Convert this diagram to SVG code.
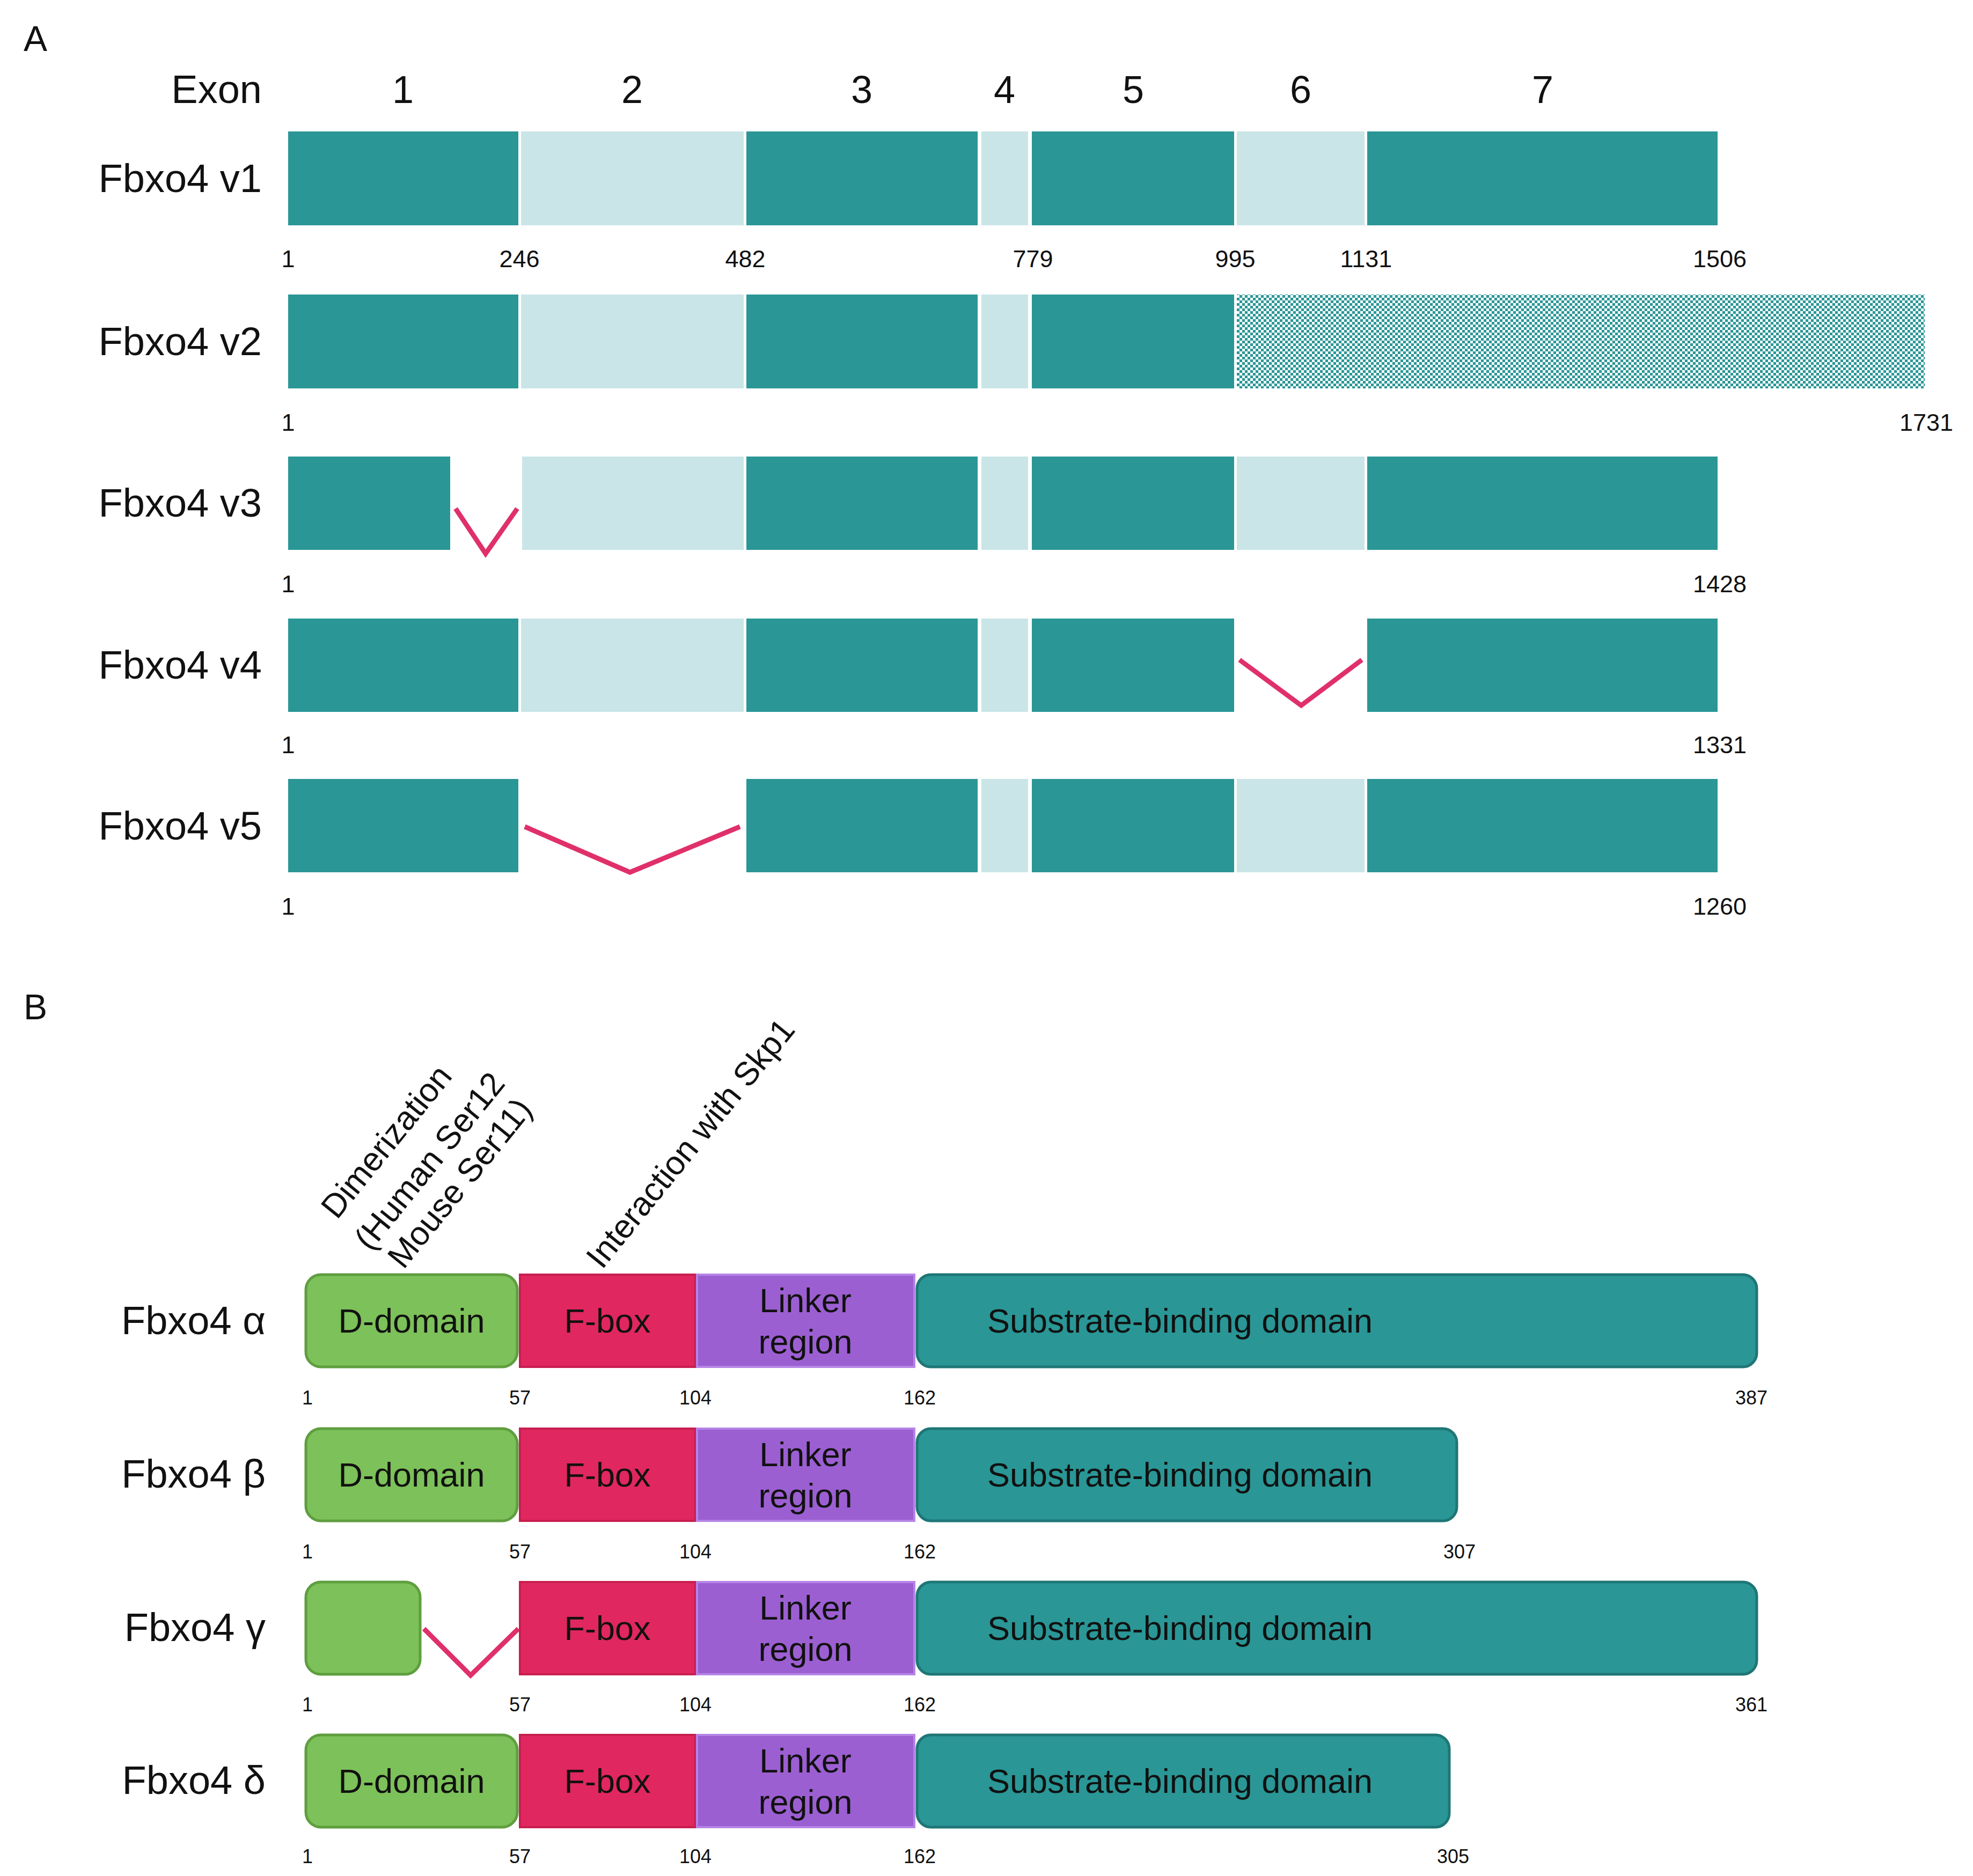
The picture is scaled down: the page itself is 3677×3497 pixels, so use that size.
<svg xmlns="http://www.w3.org/2000/svg" width="3677" height="3497" viewBox="0 0 3677 3497">
<style>
text{font-family:"Liberation Sans",Arial,sans-serif;fill:#111}
.lab{font-size:74px;text-anchor:end}
.hd{font-size:72px;text-anchor:middle}
.num{font-size:45px;text-anchor:middle}
.pn{font-size:36px;text-anchor:middle}
.bx{font-size:63px;text-anchor:middle}
.d{fill:#2a9696}
.l{fill:#c9e5e7}
.v{fill:none;stroke:#e0306a;stroke-width:9}
.dd{fill:#7cc159;stroke:#5f9e3f;stroke-width:5}
.fb{fill:#e0275f;stroke:#c81e50;stroke-width:4}
.lk{fill:#9c5fd2;stroke:#b585e6;stroke-width:4}
.sb{fill:#2a9696;stroke:#1f7676;stroke-width:5}
</style>
<defs>
<pattern id="chk" width="10" height="10" patternUnits="userSpaceOnUse">
<rect width="10" height="10" fill="#fff"/><rect width="5" height="5" fill="#2a9696"/><rect x="5" y="5" width="5" height="5" fill="#2a9696"/>
</pattern>
</defs>
<text x="44" y="95" style="font-size:66px">A</text>
<text x="44" y="1900" style="font-size:66px">B</text>
<g id="exonhdr">
<text x="488" y="192" class="lab">Exon</text>
<text x="751" y="192" class="hd">1</text><text x="1178" y="192" class="hd">2</text><text x="1606" y="192" class="hd">3</text><text x="1872" y="192" class="hd">4</text><text x="2112" y="192" class="hd">5</text><text x="2424" y="192" class="hd">6</text><text x="2875" y="192" class="hd">7</text>
</g>
<g id="v1">
<text x="488" y="358" class="lab">Fbxo4 v1</text>
<rect x="537" y="245" width="429" height="175" class="d"/><rect x="971" y="245" width="415" height="175" class="l"/><rect x="1391" y="245" width="431" height="175" class="d"/><rect x="1829" y="245" width="87" height="175" class="l"/><rect x="1923" y="245" width="377" height="175" class="d"/><rect x="2305" y="245" width="238" height="175" class="l"/><rect x="2548" y="245" width="653" height="175" class="d"/>
<text x="537" y="498" class="num">1</text><text x="968" y="498" class="num">246</text><text x="1389" y="498" class="num">482</text><text x="1925" y="498" class="num">779</text><text x="2302" y="498" class="num">995</text><text x="2546" y="498" class="num">1131</text><text x="3205" y="498" class="num">1506</text>
</g>
<g id="v2">
<text x="488" y="662" class="lab">Fbxo4 v2</text>
<rect x="537" y="549" width="429" height="175" class="d"/><rect x="971" y="549" width="415" height="175" class="l"/><rect x="1391" y="549" width="431" height="175" class="d"/><rect x="1829" y="549" width="87" height="175" class="l"/><rect x="1923" y="549" width="377" height="175" class="d"/><rect x="2305" y="549" width="1282" height="175" fill="url(#chk)"/>
<text x="537" y="803" class="num">1</text><text x="3590" y="803" class="num">1731</text>
</g>
<g id="v3">
<text x="488" y="963" class="lab">Fbxo4 v3</text>
<rect x="537" y="851" width="302" height="174" class="d"/><rect x="973" y="851" width="413" height="174" class="l"/><rect x="1391" y="851" width="431" height="174" class="d"/><rect x="1829" y="851" width="87" height="174" class="l"/><rect x="1923" y="851" width="377" height="174" class="d"/><rect x="2305" y="851" width="238" height="174" class="l"/><rect x="2548" y="851" width="653" height="174" class="d"/>
<text x="537" y="1104" class="num">1</text><text x="3205" y="1104" class="num">1428</text>
</g>
<g id="v4">
<text x="488" y="1265" class="lab">Fbxo4 v4</text>
<rect x="537" y="1153" width="429" height="174" class="d"/><rect x="971" y="1153" width="415" height="174" class="l"/><rect x="1391" y="1153" width="431" height="174" class="d"/><rect x="1829" y="1153" width="87" height="174" class="l"/><rect x="1923" y="1153" width="377" height="174" class="d"/><rect x="2548" y="1153" width="653" height="174" class="d"/>
<text x="537" y="1404" class="num">1</text><text x="3205" y="1404" class="num">1331</text>
</g>
<g id="v5">
<text x="488" y="1565" class="lab">Fbxo4 v5</text>
<rect x="537" y="1452" width="429" height="174" class="d"/><rect x="1391" y="1452" width="431" height="174" class="d"/><rect x="1829" y="1452" width="87" height="174" class="l"/><rect x="1923" y="1452" width="377" height="174" class="d"/><rect x="2305" y="1452" width="238" height="174" class="l"/><rect x="2548" y="1452" width="653" height="174" class="d"/>
<text x="537" y="1705" class="num">1</text><text x="3205" y="1705" class="num">1260</text>
</g>
<g id="splices">
<polyline points="849,948 905,1032 964,948" class="v"/>
<polyline points="2310,1230 2425,1315 2538,1230" class="v"/>
<polyline points="978,1541 1174,1626 1379,1541" class="v"/>
<polyline points="790,3036 877,3123 966,3036" class="v"/>
</g>
<g id="annot" style="font-size:62px">
<text transform="translate(628,2275) rotate(-51)">Dimerization</text>
<text transform="translate(690,2334) rotate(-51)">(Human Ser12</text>
<text transform="translate(752,2368) rotate(-51)">Mouse Ser11)</text>
<text transform="translate(1122,2368) rotate(-51)">Interaction with Skp1</text>
</g>
<g id="alpha">
<text x="495" y="2487" class="lab">Fbxo4 α</text>
<rect x="570" y="2376" width="394" height="172" rx="28" class="dd"/><rect x="969" y="2376" width="327" height="172" class="fb"/><rect x="1299" y="2376" width="405" height="172" class="lk"/><rect x="1709" y="2376" width="1565" height="172" rx="26" class="sb"/>
<text x="767" y="2484" class="bx">D-domain</text><text x="1132" y="2484" class="bx">F-box</text><text x="1501" y="2446" class="bx">Linker</text><text x="1501" y="2523" class="bx">region</text><text x="2199" y="2484" class="bx">Substrate-binding domain</text>
<text x="573" y="2618" class="pn">1</text><text x="969" y="2618" class="pn">57</text><text x="1296" y="2618" class="pn">104</text><text x="1714" y="2618" class="pn">162</text><text x="3264" y="2618" class="pn">387</text>
</g>
<g id="beta">
<text x="495" y="2773" class="lab">Fbxo4 β</text>
<rect x="570" y="2663" width="394" height="172" rx="28" class="dd"/><rect x="969" y="2663" width="327" height="172" class="fb"/><rect x="1299" y="2663" width="405" height="172" class="lk"/><rect x="1709" y="2663" width="1006" height="172" rx="26" class="sb"/>
<text x="767" y="2771" class="bx">D-domain</text><text x="1132" y="2771" class="bx">F-box</text><text x="1501" y="2733" class="bx">Linker</text><text x="1501" y="2810" class="bx">region</text><text x="2199" y="2771" class="bx">Substrate-binding domain</text>
<text x="573" y="2905" class="pn">1</text><text x="969" y="2905" class="pn">57</text><text x="1296" y="2905" class="pn">104</text><text x="1714" y="2905" class="pn">162</text><text x="2720" y="2905" class="pn">307</text>
</g>
<g id="gamma">
<text x="495" y="3059" class="lab">Fbxo4 γ</text>
<rect x="570" y="2949" width="213" height="172" rx="28" class="dd"/><rect x="969" y="2949" width="327" height="172" class="fb"/><rect x="1299" y="2949" width="405" height="172" class="lk"/><rect x="1709" y="2949" width="1565" height="172" rx="26" class="sb"/>
<text x="1132" y="3057" class="bx">F-box</text><text x="1501" y="3019" class="bx">Linker</text><text x="1501" y="3096" class="bx">region</text><text x="2199" y="3057" class="bx">Substrate-binding domain</text>
<text x="573" y="3190" class="pn">1</text><text x="969" y="3190" class="pn">57</text><text x="1296" y="3190" class="pn">104</text><text x="1714" y="3190" class="pn">162</text><text x="3264" y="3190" class="pn">361</text>
</g>
<g id="delta">
<text x="495" y="3344" class="lab">Fbxo4 δ</text>
<rect x="570" y="3234" width="394" height="172" rx="28" class="dd"/><rect x="969" y="3234" width="327" height="172" class="fb"/><rect x="1299" y="3234" width="405" height="172" class="lk"/><rect x="1709" y="3234" width="992" height="172" rx="26" class="sb"/>
<text x="767" y="3342" class="bx">D-domain</text><text x="1132" y="3342" class="bx">F-box</text><text x="1501" y="3304" class="bx">Linker</text><text x="1501" y="3381" class="bx">region</text><text x="2199" y="3342" class="bx">Substrate-binding domain</text>
<text x="573" y="3473" class="pn">1</text><text x="969" y="3473" class="pn">57</text><text x="1296" y="3473" class="pn">104</text><text x="1714" y="3473" class="pn">162</text><text x="2708" y="3473" class="pn">305</text>
</g>
</svg>
